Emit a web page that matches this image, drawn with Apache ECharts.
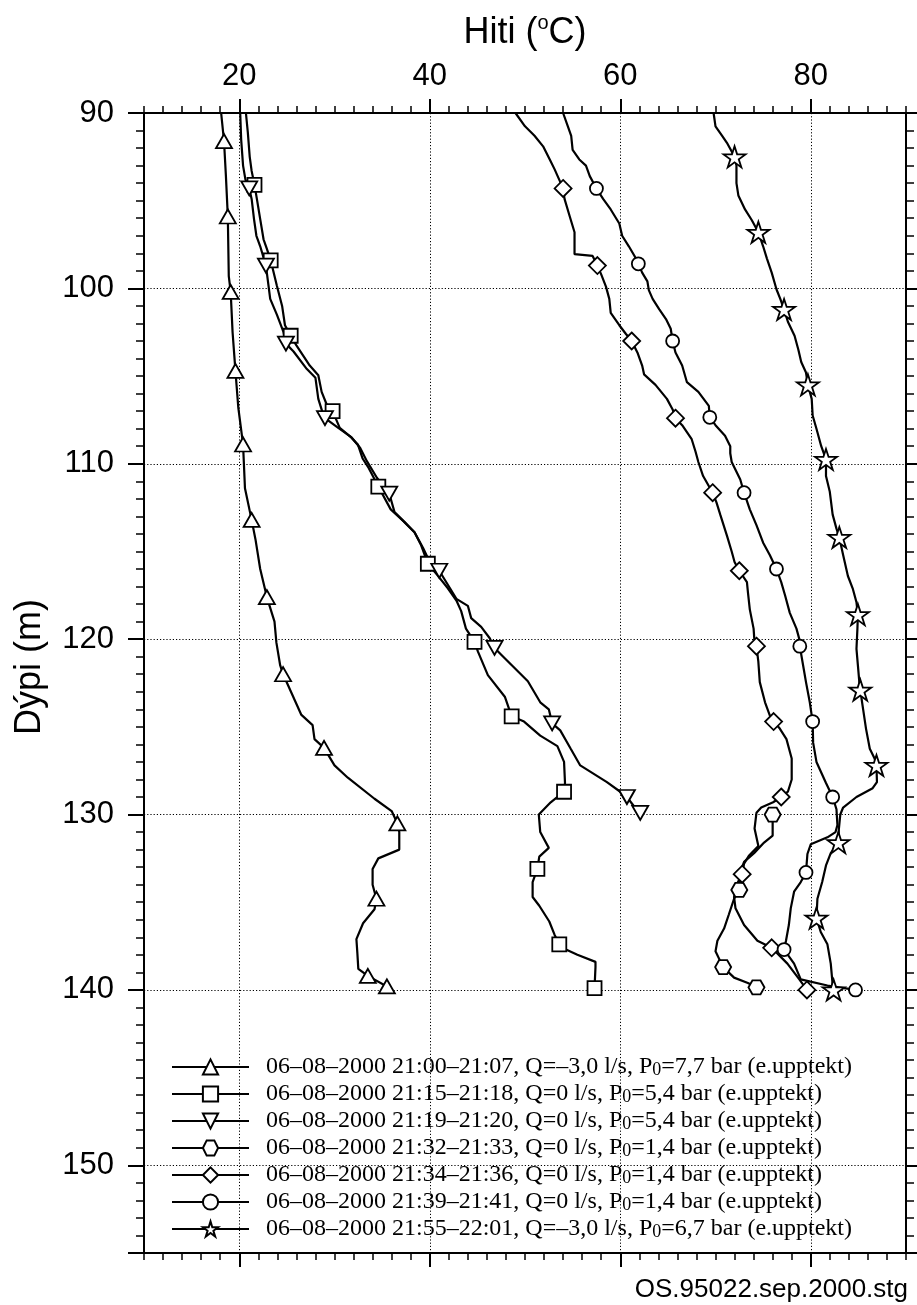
<!DOCTYPE html>
<html>
<head>
<meta charset="utf-8">
<script src="https://cdn.jsdelivr.net/npm/echarts@6/dist/echarts.min.js"></script>
<style>
  html, body { margin: 0; padding: 0; background: #fff; }
  #chart { width: 917px; height: 1305px; }
</style>
</head>
<body>
<div id="chart"></div>
<script>
// Temperature profiles, points are [temperature °C, depth m].
// *Path = line vertices without a symbol, *Marks = points that carry the marker.
const seriesNames = [
  '06–08–2000 21:00–21:07, Q=–3,0 l/s, P0=7,7 bar (e.upptekt)',
  '06–08–2000 21:15–21:18, Q=0 l/s, P0=5,4 bar (e.upptekt)',
  '06–08–2000 21:19–21:20, Q=0 l/s, P0=5,4 bar (e.upptekt)',
  '06–08–2000 21:32–21:33, Q=0 l/s, P0=1,4 bar (e.upptekt)',
  '06–08–2000 21:34–21:36, Q=0 l/s, P0=1,4 bar (e.upptekt)',
  '06–08–2000 21:39–21:41, Q=0 l/s, P0=1,4 bar (e.upptekt)',
  '06–08–2000 21:55–22:01, Q=–3,0 l/s, P0=6,7 bar (e.upptekt)'
];

const xTicks = [20, 40, 60, 80];

const s1Marks = [[18.4,91.6],[18.8,95.9],[19.1,100.2],[19.6,104.7],[20.4,108.9],[21.3,113.2],[22.9,117.6],
  [24.6,122.0],[28.9,126.2],[36.6,130.5],[34.4,134.8],[33.5,139.2],[35.5,139.8]];
const s1Path = [[18.1,90.0],[18.6,93.6],[18.9,99.3],[19.3,102.5],[19.9,106.8],[20.6,111.4],[21.7,114.3],
  [22.2,116.0],[23.3,118.3],[23.7,119.0],[23.9,120.2],[24.3,121.5],[25.1,122.6],[26.5,124.3],[27.7,124.9],
  [27.9,125.7],[30.0,127.2],[31.4,127.9],[34.2,129.1],[36.0,129.8],[36.8,131.0],[36.8,132.0],[34.6,132.5],
  [34.0,133.1],[34.0,134.0],[34.2,135.4],[33.0,136.2],[32.3,137.1],[32.4,137.9],[32.5,138.8]];

const s2Marks = [[21.6,94.1],[23.3,98.4],[25.4,102.7],[29.8,107.0],[34.6,111.3],[39.8,115.7],[44.7,120.15],
  [48.6,124.4],[54.1,128.7],[51.3,133.1],[53.6,137.4],[57.3,139.9]];
const s2Path = [[20.7,90.0],[20.9,91.1],[21.1,92.5],[21.3,93.3],[21.85,94.9],[22.2,96.05],[22.55,97.2],
  [22.9,97.75],[23.95,99.85],[24.5,101.0],[24.8,102.1],[26.0,103.25],[27.4,104.4],[28.3,104.95],[28.65,105.9],
  [29.2,106.65],[30.55,107.95],[31.75,108.5],[32.45,108.9],[32.95,109.7],[33.6,110.25],[35.9,112.6],
  [37.3,113.3],[38.4,113.9],[39.1,114.65],[40.8,116.35],[41.9,117.1],[42.8,117.8],[43.3,118.4],[43.8,119.4],
  [45.05,120.7],[46.1,122.05],[47.9,123.3],[49.9,124.7],[51.6,125.5],[53.4,126.1],[54.1,127.0],[54.2,128.2],
  [52.7,129.3],[51.45,130.0],[51.6,131.0],[52.5,131.9],[51.5,132.4],[50.8,133.85],[50.8,134.7],[51.5,135.2],
  [52.55,136.1],[53.1,136.85],[54.3,137.7],[55.5,138.0],[57.4,138.4],[57.4,138.7]];

const s3Marks = [[21.05,94.3],[22.8,98.7],[24.9,103.15],[29.0,107.4],[35.75,111.7],[41.0,116.1],[46.8,120.5],
  [52.85,124.8],[60.7,129.0],[62.1,129.9]];
const s3Path = [[20.1,90.0],[20.2,91.5],[20.4,93.0],[20.65,93.8],[21.3,94.9],[21.55,96.05],[21.8,97.0],
  [22.2,97.6],[23.25,100.6],[23.95,101.5],[24.65,102.5],[25.7,103.6],[27.1,104.6],[28.0,105.1],[28.3,106.3],
  [28.7,107.0],[30.25,107.9],[31.8,108.5],[32.7,109.1],[33.4,109.85],[34.45,110.8],[36.3,112.75],[37.3,113.3],
  [38.4,113.9],[39.3,114.8],[40.0,115.6],[41.9,116.9],[42.8,117.7],[44.0,118.1],[44.35,118.8],[45.4,119.3],
  [46.3,119.95],[47.9,121.1],[50.3,122.4],[51.6,123.6],[52.5,124.0],[53.7,125.2],[54.8,126.25],[55.8,127.2],
  [58.6,128.15],[60.0,128.7],[61.4,129.5]];

const s4Marks = [[76.0,130.0],[72.5,134.3],[70.8,138.7],[74.3,139.85]];
const s4Path = [[76.0,131.2],[75.1,131.6],[74.05,132.2],[73.0,132.7],[72.65,133.2],[71.95,134.8],[71.4,135.7],
  [70.9,136.5],[70.2,137.2],[70.0,137.8],[71.95,139.3],[73.4,139.6]];

const s5Marks = [[54.0,94.3],[57.6,98.7],[61.2,103.0],[65.8,107.4],[69.7,111.65],[72.5,116.1],[74.3,120.4],
  [76.1,124.7],[76.9,129.0],[72.8,133.4],[75.9,137.6],[79.6,140.0]];
const s5Path = [[49.0,90.0],[50.0,90.76],[51.0,91.3],[51.9,91.9],[52.6,92.65],[53.1,93.2],[54.15,94.9],
  [54.7,95.9],[55.2,96.8],[55.2,98.05],[57.1,98.15],[58.0,99.2],[58.5,99.9],[58.85,100.6],[59.0,101.4],
  [59.9,102.1],[60.6,102.6],[61.8,103.65],[62.3,104.4],[62.5,104.9],[63.7,105.5],[64.9,106.3],[65.5,106.9],
  [66.5,107.8],[67.5,108.6],[67.9,109.3],[68.2,109.9],[68.7,110.7],[70.1,112.2],[70.5,112.9],[71.2,114.1],
  [71.7,115.0],[72.0,115.6],[73.3,116.75],[73.4,117.3],[73.6,118.3],[74.0,119.4],[74.1,120.2],[74.5,121.3],
  [74.65,122.45],[75.2,123.6],[75.7,124.35],[76.75,125.1],[77.45,125.7],[78.0,126.8],[78.0,128.0],[77.6,128.7],
  [76.05,129.3],[74.8,129.6],[74.3,129.9],[74.1,130.8],[74.5,131.8],[73.5,132.35],[73.0,132.8],[72.3,133.9],
  [71.95,134.7],[72.1,135.35],[73.0,136.3],[74.4,137.2],[77.55,138.5],[78.8,139.4]];

const s6Marks = [[57.5,94.3],[61.9,98.6],[65.5,103.0],[69.4,107.35],[73.0,111.65],[76.4,116.0],[78.85,120.4],
  [80.2,124.7],[82.3,129.0],[79.5,133.3],[77.2,137.7],[84.7,140.0]];
const s6Path = [[54.0,90.0],[54.5,90.76],[54.85,91.3],[55.0,92.1],[55.7,92.65],[56.4,93.0],[56.8,93.6],
  [58.2,94.9],[59.0,95.5],[59.9,96.3],[60.2,97.0],[60.9,97.6],[61.5,98.15],[62.3,99.1],[62.85,99.6],
  [63.0,100.1],[63.4,100.6],[64.1,101.2],[64.8,101.75],[65.3,102.3],[65.8,103.65],[66.5,104.4],[67.0,105.35],
  [68.2,105.9],[69.3,106.7],[70.0,107.8],[71.0,108.4],[71.55,109.0],[71.55,109.4],[71.7,109.9],[72.6,110.9],
  [73.6,112.6],[74.3,113.5],[75.0,114.5],[75.7,115.2],[76.9,116.75],[77.3,117.5],[77.8,118.5],[78.5,119.4],
  [78.8,120.0],[79.2,121.5],[79.5,122.45],[79.9,123.6],[80.1,124.35],[80.25,125.9],[80.6,127.0],[81.6,128.2],
  [82.7,129.7],[82.8,130.6],[82.6,131.0],[81.75,131.3],[80.0,131.7],[79.65,132.25],[78.95,133.85],
  [78.25,134.4],[77.9,135.35],[77.7,136.3],[77.4,137.2],[78.25,138.5],[78.95,139.4],[81.75,139.75]];

const s7Marks = [[72.0,92.5],[74.5,96.8],[77.2,101.2],[79.7,105.5],[81.6,109.75],[83.0,114.2],[84.95,118.6],
  [85.2,122.9],[86.9,127.2],[82.9,131.6],[80.6,135.9],[82.4,140.0]];
const s7Path = [[69.8,90.0],[70.0,90.76],[70.7,91.3],[71.2,91.7],[72.2,93.0],[72.2,94.0],[72.4,94.7],
  [73.1,95.5],[73.8,96.1],[75.0,97.6],[75.4,98.3],[75.9,99.1],[76.4,100.05],[76.8,100.6],[77.6,101.9],
  [78.3,102.7],[78.7,103.5],[79.0,104.2],[79.5,104.8],[80.1,106.3],[80.2,107.25],[80.6,108.0],[81.1,109.0],
  [81.6,110.7],[82.0,111.6],[82.3,112.9],[82.7,113.7],[83.4,115.2],[83.9,116.4],[84.4,117.1],[84.8,117.9],
  [84.9,119.4],[84.8,120.55],[84.95,121.5],[85.1,122.45],[85.5,124.0],[85.8,125.1],[86.2,126.25],[86.7,126.8],
  [86.95,128.15],[86.5,128.5],[84.8,129.0],[83.4,129.6],[83.1,130.0],[82.95,130.85],[82.1,132.2],[81.6,132.9],
  [81.2,133.85],[80.7,134.8],[81.05,136.7],[81.75,137.4],[82.1,138.5],[82.3,139.7]];

// marker shapes
const hexPath = 'path://M0,5L2.9,0L8.7,0L11.6,5L8.7,10L2.9,10Z';
const starPath = 'path://M50,0L61.2,34.5L97.6,34.5L68.2,55.9L79.4,90.5L50,69.1L20.6,90.5L31.8,55.9L2.4,34.5L38.8,34.5Z';

const profiles = [
  { path: s1Path, marks: s1Marks, symbol: 'triangle', size: [16, 14], rotate: 0 },
  { path: s2Path, marks: s2Marks, symbol: 'rect', size: 14, rotate: 0 },
  { path: s3Path, marks: s3Marks, symbol: 'triangle', size: [16, 14], rotate: 180 },
  { path: s4Path, marks: s4Marks, symbol: hexPath, size: [16, 14], rotate: 0 },
  { path: s5Path, marks: s5Marks, symbol: 'diamond', size: [17, 17], rotate: 0 },
  { path: s6Path, marks: s6Marks, symbol: 'circle', size: 13, rotate: 0 },
  { path: s7Path, marks: s7Marks, symbol: starPath, size: [22, 21], rotate: 0 }
];

function buildData(path, marks) {
  const pts = path.map(p => ({ value: p, symbol: 'none' }))
    .concat(marks.map(p => ({ value: p })));
  pts.sort((a, b) => a.value[1] - b.value[1]);
  return pts;
}

const SANS = 'Liberation Sans';
const SERIF = 'Liberation Serif';
const dotted = { color: '#000', width: 1, type: [1.2, 2] };

function xAxisPair(position, withLabels) {
  return [
    {
      type: 'value', position: position, min: 10, max: 90, interval: 10,
      name: withLabels ? 'Hiti ({sup|o}C)' : '',
      nameLocation: 'middle', nameGap: 60,
      nameTextStyle: {
        fontFamily: SANS, fontSize: 36, color: '#000', lineHeight: 40,
        rich: { sup: { fontFamily: SANS, fontSize: 20, color: '#000', verticalAlign: 'top', lineHeight: 24 } }
      },
      axisLine: { show: true, onZero: false, lineStyle: { color: '#000', width: 2 } },
      axisTick: { show: true, customValues: xTicks, length: 14, lineStyle: { color: '#000', width: 2 } },
      axisLabel: { show: withLabels, customValues: xTicks, margin: 21, fontFamily: SANS, fontSize: 31, color: '#000' },
      splitLine: { show: withLabels, lineStyle: dotted }
    },
    {
      type: 'value', position: position, min: 10, max: 90, interval: 2,
      axisLine: { show: false },
      axisTick: { show: true, length: 7, lineStyle: { color: '#000', width: 1.5 } },
      axisLabel: { show: false },
      splitLine: { show: false }
    }
  ];
}

function yAxisPair(position, withLabels) {
  return [
    {
      type: 'value', position: position, inverse: true, min: 90, max: 155, interval: 10,
      name: withLabels ? 'Dýpi (m)' : '',
      nameLocation: 'middle', nameGap: 96, nameRotate: 90,
      nameTextStyle: { fontFamily: SANS, fontSize: 36, color: '#000', padding: [0, 0, 0, 32] },
      axisLine: { show: true, onZero: false, lineStyle: { color: '#000', width: 2 } },
      axisTick: { show: true, length: 16, lineStyle: { color: '#000', width: 2 } },
      axisLabel: {
        show: withLabels, margin: 30, fontFamily: SANS, fontSize: 31, color: '#000',
        formatter: v => (v > 150 ? '' : String(v))
      },
      splitLine: { show: withLabels, lineStyle: dotted }
    },
    {
      type: 'value', position: position, inverse: true, min: 90, max: 155, interval: 1,
      axisLine: { show: false },
      axisTick: { show: true, length: 8, lineStyle: { color: '#000', width: 1.5 } },
      axisLabel: { show: false },
      splitLine: { show: false }
    }
  ];
}

const chart = echarts.init(document.getElementById('chart'), null, { renderer: 'canvas' });

const option = {
  animation: false,
  backgroundColor: '#fff',
  title: {
    text: 'OS.95022.sep.2000.stg',
    right: 4, top: 1272,
    textStyle: { fontFamily: SANS, fontSize: 26, fontWeight: 'normal', color: '#000' }
  },
  grid: { left: 144, right: 11, top: 113, bottom: 52, containLabel: false },
  xAxis: xAxisPair('top', true).concat(xAxisPair('bottom', false)),
  yAxis: yAxisPair('left', true).concat(yAxisPair('right', false)),
  legend: {
    orient: 'vertical', left: 171, top: 1055, padding: 0,
    itemWidth: 77, itemHeight: 19, itemGap: 3,
    selectedMode: false,
    data: seriesNames,
    formatter: name => name.replace('P0=', 'P{sub|0}='),
    textStyle: {
      fontFamily: SERIF, fontSize: 24, color: '#000', lineHeight: 24, padding: [0, 0, 0, 12],
      rich: { sub: { fontFamily: SERIF, fontSize: 18, color: '#000', lineHeight: 10, verticalAlign: 'bottom' } }
    }
  },
  series: profiles.map((p, i) => ({
    name: seriesNames[i],
    type: 'line',
    xAxisIndex: 0,
    yAxisIndex: 0,
    data: buildData(p.path, p.marks),
    symbol: p.symbol,
    symbolSize: p.size,
    symbolRotate: p.rotate,
    showSymbol: true,
    showAllSymbol: true,
    lineStyle: { color: '#000', width: 2.2 },
    itemStyle: { color: '#fff', borderColor: '#000', borderWidth: 1.8 },
    emphasis: { disabled: true },
    z: 3
  }))
};

chart.setOption(option);
window.addEventListener('resize', () => chart.resize());
</script>
</body>
</html>
